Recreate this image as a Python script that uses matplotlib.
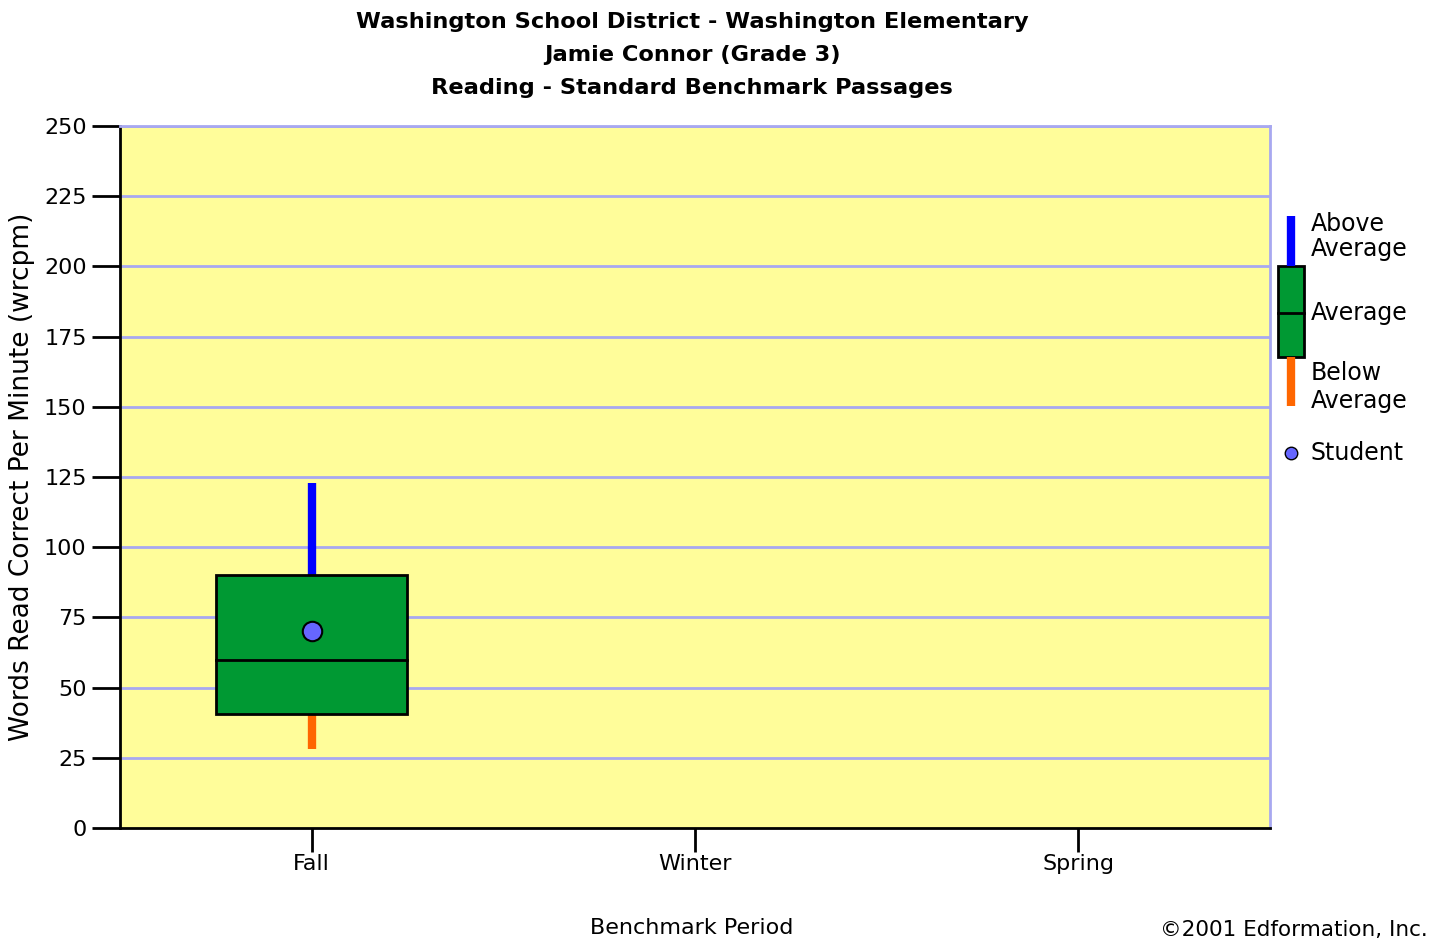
import matplotlib
matplotlib.use("Agg")
import matplotlib.pyplot as plt
from matplotlib.patches import Rectangle
from matplotlib.lines import Line2D

periods = ["Fall", "Winter", "Spring"]
whisker_low = [28]
box_low = [40.5]
median = [60]
box_high = [90]
whisker_high = [123]
student = [70]
yticks = [0, 25, 50, 75, 100, 125, 150, 175, 200, 225, 250]

title_lines = ["Washington School District - Washington Elementary",
               "Jamie Connor (Grade 3)",
               "Reading - Standard Benchmark Passages"]

plt.rcParams['font.family'] = ['DejaVu Sans']
fig = plt.figure(figsize=(14.45, 9.4), dpi=100)
fig.patch.set_facecolor("white")
ax = fig.add_axes([120/1445, 1-828/940, 1150/1445, 702/940])
ax.set_facecolor("#FFFD9A")
ax.set_xlim(0, 3)
ax.set_ylim(0, 250)
ax.set_yticks(yticks)
ax.set_yticklabels([str(v) for v in yticks], fontsize=16)
xpos = [i + 0.5 for i in range(len(periods))]
ax.set_xticks(xpos)
ax.set_xticklabels(periods, fontsize=16)
ax.tick_params(axis='y', length=20, width=2, pad=4)
ax.tick_params(axis='x', length=17, width=2, pad=2)
for v in yticks[1:]:
    ax.axhline(v, color="#A8A8F0", lw=2, zorder=1)
ax.spines['left'].set_color('black'); ax.spines['left'].set_linewidth(2)
ax.spines['bottom'].set_color('black'); ax.spines['bottom'].set_linewidth(2)
ax.spines['top'].set_color('#A8A8F0'); ax.spines['top'].set_linewidth(2)
ax.spines['right'].set_color('#A8A8F0'); ax.spines['right'].set_linewidth(2)

bw = 0.5
for i in range(len(whisker_low)):
    x = xpos[i]
    ax.plot([x, x], [box_high[i], whisker_high[i]], color="#0000FF", lw=6, solid_capstyle='butt', zorder=2)
    ax.plot([x, x], [whisker_low[i], box_low[i]], color="#FF6600", lw=6, solid_capstyle='butt', zorder=2)
    ax.add_patch(Rectangle((x - bw/2, box_low[i]), bw, box_high[i]-box_low[i],
                           facecolor="#009933", edgecolor="black", lw=2, zorder=3))
    ax.plot([x - bw/2, x + bw/2], [median[i], median[i]], color="black", lw=2, zorder=4)
    ax.plot([x], [student[i]], 'o', ms=14, mfc="#6666FF", mec="black", mew=1.5, zorder=5)

fig.text(22/1445, 1-477/940, "Words Read Correct Per Minute (wrcpm)", rotation=90,
         ha='center', va='center', fontsize=19)
fig.text(692/1445, 1-928/940, "Benchmark Period", ha='center', va='center', fontsize=16)
fig.text(1428/1445, 1-930/940, "©2001 Edformation, Inc.", ha='right', va='center', fontsize=15.5)

for k, (t, yy) in enumerate(zip(title_lines, [22, 55, 88])):
    fig.text(692/1445, 1-yy/940, t, ha='center', va='center', fontsize=16.2, fontweight='bold')

# legend
def fx(px): return px/1445
def fy(py): return 1-py/940
fig.add_artist(Line2D([fx(1291), fx(1291)], [fy(216), fy(266)], color="#0000FF", lw=6, solid_capstyle='butt'))
fig.add_artist(Line2D([fx(1291), fx(1291)], [fy(357), fy(406)], color="#FF6600", lw=6, solid_capstyle='butt'))
fig.add_artist(Rectangle((fx(1278), fy(357)), fx(26), 91/940, facecolor="#009933", edgecolor="black", lw=2, transform=fig.transFigure))
fig.add_artist(Line2D([fx(1278), fx(1304)], [fy(313), fy(313)], color="black", lw=2))
fig.add_artist(Line2D([fx(1291)], [fy(453)], marker='o', ms=9, mfc="#6666FF", mec="black", mew=1, ls='none'))
for t, yy in [("Above", 224), ("Average", 249), ("Average", 313), ("Below", 373), ("Average", 401), ("Student", 453)]:
    fig.text(fx(1311), fy(yy), t, ha='left', va='center', fontsize=17)

fig.savefig("out.png", dpi=100)
